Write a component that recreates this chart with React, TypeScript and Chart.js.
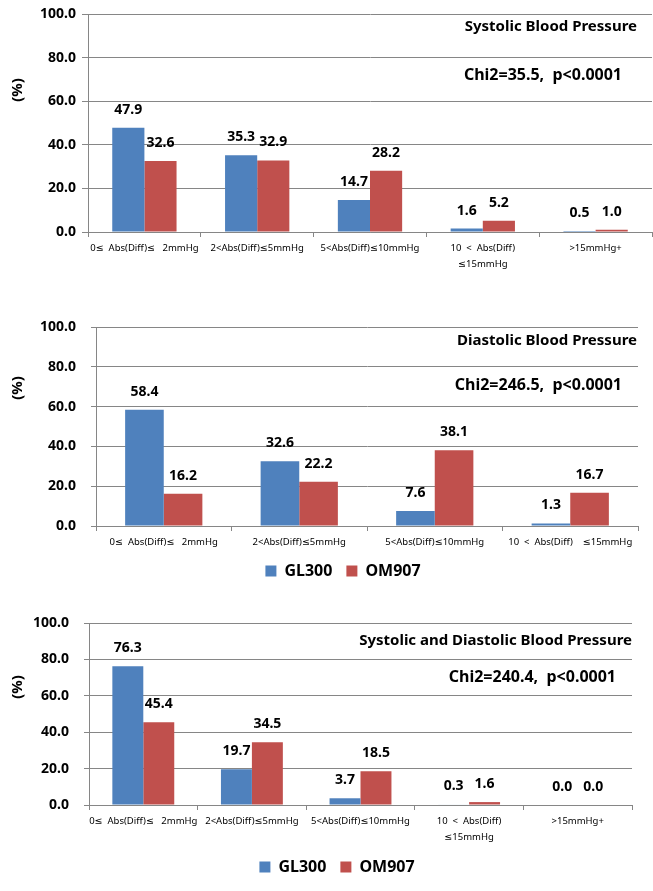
import React, { useEffect, useRef } from "react";
import { Chart, registerables } from "chart.js";

Chart.register(...registerables);

const FONT = "'Noto Sans', 'DejaVu Sans', sans-serif";

// ---- data ----
const seriesNames = ["GL300", "OM907"];
const seriesColors = ["#4F81BD", "#C0504D"];

const categoriesFive: (string | string[])[] = [
  "0≤  Abs(Diff)≤   2mmHg",
  "2<Abs(Diff)≤5mmHg",
  "5<Abs(Diff)≤10mmHg",
  ["10  <  Abs(Diff)", "≤15mmHg"],
  ">15mmHg+",
];
const categoriesFour: (string | string[])[] = [
  "0≤  Abs(Diff)≤   2mmHg",
  "2<Abs(Diff)≤5mmHg",
  "5<Abs(Diff)≤10mmHg",
  "10  <  Abs(Diff)    ≤15mmHg",
];

const sbpGL300 = [47.9, 35.3, 14.7, 1.6, 0.5];
const sbpOM907 = [32.6, 32.9, 28.2, 5.2, 1.0];
const dbpGL300 = [58.4, 32.6, 7.6, 1.3];
const dbpOM907 = [16.2, 22.2, 38.1, 16.7];
const bothGL300 = [76.3, 19.7, 3.7, 0.3, 0.0];
const bothOM907 = [45.4, 34.5, 18.5, 1.6, 0.0];

const yTickValues = [0, 20, 40, 60, 80, 100];
const panelTitles = [
  "Systolic Blood Pressure",
  "Diastolic Blood Pressure",
  "Systolic and Diastolic Blood Pressure",
];
const panelStats = [
  "Chi2=35.5,  p<0.0001",
  "Chi2=246.5,  p<0.0001",
  "Chi2=240.4,  p<0.0001",
];
const unitLabel = "(%)";

// ---- plugins ----
const valueLabels = {
  id: "valueLabels",
  afterDatasetsDraw(chart: any, _args: any, opts: any) {
    const ctx = chart.ctx;
    ctx.save();
    ctx.font = `bold ${opts.size}px ${FONT}`;
    ctx.fillStyle = "#000";
    ctx.textAlign = "center";
    ctx.textBaseline = "middle";
    chart.data.datasets.forEach((ds: any, i: number) => {
      const meta = chart.getDatasetMeta(i);
      meta.data.forEach((el: any, j: number) => {
        const v = Number(ds.data[j]);
        ctx.fillText(v.toFixed(1), el.x, el.y - opts.offset);
      });
    });
    ctx.restore();
  },
};

const panelText = {
  id: "panelText",
  afterLayout(chart: any, _args: any, o: any) {
    // shift the legend block horizontally (reference legend is right of centre)
    if (chart.legend && o.legendShift) {
      chart.legend.left += o.legendShift;
      chart.legend.right += o.legendShift;
    }
  },
  afterDraw(chart: any, _args: any, o: any) {
    const ctx = chart.ctx;
    ctx.save();
    ctx.fillStyle = "#000";
    ctx.textBaseline = "middle";
    ctx.textAlign = "right";
    ctx.font = `bold 15px ${FONT}`;
    ctx.fillText(o.title, o.titleRight, o.titleY);
    ctx.font = `bold 16px ${FONT}`;
    ctx.fillText(o.stat, o.statRight, o.statY);
    ctx.translate(o.unitX, o.unitY);
    ctx.rotate(-Math.PI / 2);
    ctx.textAlign = "center";
    ctx.font = `bold 15px ${FONT}`;
    ctx.fillText(o.unit, 0, 0);
    ctx.restore();
  },
};

type Layout = {
  top: number;
  height: number;
  padR: number;
  padT: number;
  padB: number;
  yWidth: number;
  xHeight: number;
  yTickLen: number;
  yTickPad: number;
  legend: boolean;
  legendShift: number;
  titleRight: number;
  titleY: number;
  statRight: number;
  statY: number;
  unitY: number;
};

function Panel(props: {
  labels: (string | string[])[];
  a: number[];
  b: number[];
  title: string;
  stat: string;
  layout: Layout;
}) {
  const ref = useRef<HTMLCanvasElement | null>(null);
  const { labels, a, b, title, stat, layout: L } = props;

  useEffect(() => {
    if (!ref.current) return;
    const grid = "#868686";
    const chart = new Chart(ref.current, {
      type: "bar",
      data: {
        labels,
        datasets: [
          { label: seriesNames[0], data: a, backgroundColor: seriesColors[0], borderWidth: 0 },
          { label: seriesNames[1], data: b, backgroundColor: seriesColors[1], borderWidth: 0 },
        ],
      },
      options: {
        animation: false,
        responsive: true,
        maintainAspectRatio: false,
        layout: { padding: { left: 0, right: L.padR, top: L.padT, bottom: L.padB } },
        datasets: { bar: { categoryPercentage: 0.57, barPercentage: 1.0 } },
        scales: {
          x: {
            grid: {
              offset: true,
              drawOnChartArea: false,
              drawTicks: true,
              tickLength: 5,
              color: grid,
            },
            border: { display: true, color: grid },
            ticks: {
              color: "#000",
              font: { family: FONT, size: 9.5, lineHeight: 1.7 },
              padding: 3,
              maxRotation: 0,
              autoSkip: false,
            },
            afterFit(scale: any) {
              scale.height = L.xHeight;
            },
          },
          y: {
            min: 0,
            max: 100,
            afterBuildTicks(scale: any) {
              scale.ticks = yTickValues.map((v) => ({ value: v }));
            },
            grid: { color: grid, tickLength: L.yTickLen, drawTicks: true },
            border: { display: true, color: grid },
            ticks: {
              color: "#000",
              padding: L.yTickPad,
              font: { family: FONT, size: 14, weight: "bold" },
              callback: (v: any) => Number(v).toFixed(1),
            },
            afterFit(scale: any) {
              scale.width = L.yWidth;
            },
          },
        },
        plugins: {
          legend: {
            display: L.legend,
            position: "bottom",
            labels: {
              boxWidth: 11,
              boxHeight: 11,
              padding: 14,
              color: "#000",
              font: { family: FONT, size: 16, weight: "bold" },
            },
          },
          tooltip: { enabled: false },
          valueLabels: { size: 14, offset: 18 },
          panelText: {
            title,
            stat,
            unit: unitLabel,
            legendShift: L.legendShift,
            titleRight: L.titleRight,
            titleY: L.titleY,
            statRight: L.statRight,
            statY: L.statY,
            unitX: 18,
            unitY: L.unitY,
          },
        } as any,
      },
      plugins: [valueLabels, panelText],
    } as any);
    return () => chart.destroy();
  }, []);

  return (
    <div
      style={{
        position: "absolute",
        left: 0,
        top: L.top,
        width: 653,
        height: L.height,
      }}
    >
      <canvas ref={ref} />
    </div>
  );
}

const layout1: Layout = {
  top: 0, height: 290, padR: 1, padT: 10, padB: 0,
  yWidth: 88, xHeight: 58, yTickLen: 6, yTickPad: 6, legend: false, legendShift: 0,
  titleRight: 637, titleY: 27, statRight: 622, statY: 75, unitY: 90,
};
const layout2: Layout = {
  top: 290, height: 300, padR: 15, padT: 37, padB: 1,
  yWidth: 96, xHeight: 23, yTickLen: 5, yTickPad: 15, legend: true, legendShift: 24,
  titleRight: 637, titleY: 51, statRight: 622, statY: 95, unitY: 98,
};
const layout3: Layout = {
  top: 590, height: 301, padR: 21, padT: 33, padB: 6,
  yWidth: 89, xHeight: 40, yTickLen: 5, yTickPad: 15, legend: true, legendShift: 21,
  titleRight: 632, titleY: 51, statRight: 616, statY: 87, unitY: 97,
};

export default function App() {
  return (
    <div style={{ position: "absolute", left: 0, top: 0, width: 653, height: 891, background: "#fff" }}>
      <Panel labels={categoriesFive} a={sbpGL300} b={sbpOM907} title={panelTitles[0]} stat={panelStats[0]} layout={layout1} />
      <Panel labels={categoriesFour} a={dbpGL300} b={dbpOM907} title={panelTitles[1]} stat={panelStats[1]} layout={layout2} />
      <Panel labels={categoriesFive} a={bothGL300} b={bothOM907} title={panelTitles[2]} stat={panelStats[2]} layout={layout3} />
    </div>
  );
}
